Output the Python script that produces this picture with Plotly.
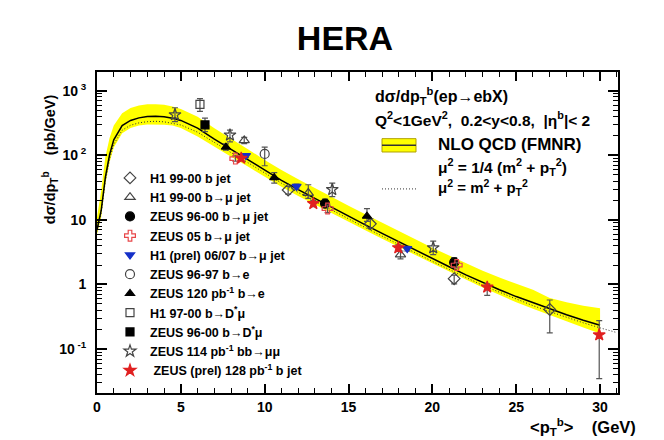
import plotly.graph_objects as go

# NLO QCD (FMNR) prediction
nlo_pt = [0, 0.25, 0.5, 0.75, 1, 1.5, 2, 2.5, 3, 3.5, 4, 4.5, 5, 6, 7, 8, 9, 10, 11, 12, 13, 14, 15,
          16, 17, 18, 19, 20, 21, 22, 23, 24, 25, 26, 27, 28, 29, 30]
nlo_central = [7.1, 14, 46, 102, 174, 288, 347, 380, 398, 403, 394, 376, 347, 263, 178, 123, 86, 59, 41,
               29.5, 21.4, 15.7, 11.5, 8.4, 6.2, 4.57, 3.39, 2.51, 1.88, 1.41, 1.07, 0.83, 0.65, 0.52,
               0.42, 0.34, 0.28, 0.234]
nlo_upper = [11, 28, 95, 185, 290, 450, 540, 590, 615, 620, 605, 570, 520, 395, 262, 178, 124, 85, 59,
             42.5, 30.8, 22.6, 16.6, 12.2, 9.0, 6.7, 5.0, 3.7, 2.8, 2.12, 1.63, 1.28, 1.02, 0.83,
             0.62, 0.53, 0.47, 0.43]
nlo_lower = [6, 11, 36, 78, 132, 220, 265, 290, 300, 302, 298, 290, 265, 195, 134, 95, 67, 46.5, 32.5,
             23.5, 17.2, 12.7, 9.4, 6.9, 5.1, 3.8, 2.83, 2.1, 1.58, 1.19, 0.9, 0.69, 0.53, 0.42,
             0.34, 0.27, 0.215, 0.175]
alt_pt = nlo_pt + [31]
alt_scale = [6.6, 13, 40, 88, 148, 245, 292, 318, 332, 336, 330, 316, 295, 228, 157, 110, 77, 53, 37,
             26.6, 19.3, 14.2, 10.4, 7.6, 5.6, 4.13, 3.07, 2.28, 1.71, 1.28, 0.97, 0.76, 0.59, 0.47,
             0.38, 0.31, 0.255, 0.213, 0.18]

# measurements: pt, value, upper edge of error bar, lower edge of error bar
h1_bjet_pt = [11.4, 16.3, 21.3, 27.0]
h1_bjet_val = [29, 8.7, 1.23, 0.41]
h1_bjet_hi = [33, 10.5, 1.4, 0.575]
h1_bjet_lo = [25, 7.4, 1.02, 0.178]

h1_bmu_pt = [8.78, 12.6, 18.1]
h1_bmu_val = [170, 26, 2.9]
h1_bmu_hi = [190, 35, 3.3]
h1_bmu_lo = [152, 21.5, 2.5]

zeus_bmu_pt = [13.6, 21.3]
zeus_bmu_val = [17.9, 2.2]
zeus_bmu_hi = [21, 2.6]
zeus_bmu_lo = [15.5, 1.85]

zeus05_pt = [8.25, 13.75, 21.45]
zeus05_val = [89, 15, 2.0]
zeus05_hi = [98, 17, 2.2]
zeus05_lo = [81, 13, 1.8]

h1prel_pt = [8.88, 11.9, 18.5]
h1prel_val = [99, 33, 3.6]
h1prel_hi = [106, 36, 3.9]
h1prel_lo = [92, 30, 3.3]

zeus_be_pt = [10.0]
zeus_be_val = [105]
zeus_be_hi = [134]
zeus_be_lo = [69]

zeus120_pt = [7.69, 10.57, 16.1]
zeus120_val = [134, 45, 11.4]
zeus120_hi = [150, 54, 14.9]
zeus120_lo = [120, 37, 9.5]

h1_dstar_pt = [6.14]
h1_dstar_val = [615]
h1_dstar_hi = [755]
h1_dstar_lo = [480]

zeus_dstar_pt = [6.44]
zeus_dstar_val = [296]
zeus_dstar_hi = [376]
zeus_dstar_lo = [232]

zeus_mumu_pt = [4.65, 7.93, 14.03, 20.05]
zeus_mumu_val = [425, 206, 29.5, 3.7]
zeus_mumu_hi = [545, 246, 37, 4.7]
zeus_mumu_lo = [333, 161, 23, 2.9]

zeus128_pt = [8.6, 12.9, 17.97, 23.27, 29.95]
zeus128_val = [90, 17.9, 3.7, 0.91, 0.166]
zeus128_hi = [97, 20, 4.1, 1.02, 0.276]
zeus128_lo = [83, 16, 3.3, 0.68, 0.035]

FONT = 'Liberation Sans, Arial, Helvetica, sans-serif'

fig = go.Figure()

# yellow uncertainty band + curves
fig.add_trace(go.Scatter(x=nlo_pt, y=nlo_lower, mode='lines', line={'width': 0},
                         showlegend=False, hoverinfo='skip'))
fig.add_trace(go.Scatter(x=nlo_pt, y=nlo_upper, mode='lines', line={'width': 0},
                         fill='tonexty', fillcolor='#ffff00', showlegend=False, hoverinfo='skip'))
fig.add_trace(go.Scatter(x=alt_pt, y=alt_scale, mode='lines',
                         line={'color': '#333333', 'width': 1, 'dash': '1px,2px'}, showlegend=False))
fig.add_trace(go.Scatter(x=nlo_pt, y=nlo_central, mode='lines',
                         line={'color': 'black', 'width': 1.5}, showlegend=False))

series = [
    ('H1 99-00 b jet', h1_bjet_pt, h1_bjet_val, h1_bjet_hi, h1_bjet_lo, 'diamond-open', '#444444', 9),
    ('H1 99-00 b→μ jet', h1_bmu_pt, h1_bmu_val, h1_bmu_hi, h1_bmu_lo, 'triangle-up-open', '#444444', 9),
    ('ZEUS 96-00 b→μ jet', zeus_bmu_pt, zeus_bmu_val, zeus_bmu_hi, zeus_bmu_lo, 'circle', 'black', 9),
    ('ZEUS 05 b→μ jet', zeus05_pt, zeus05_val, zeus05_hi, zeus05_lo, 'cross-open', '#e8474a', 9),
    ('H1 (prel) 06/07 b→μ jet', h1prel_pt, h1prel_val, h1prel_hi, h1prel_lo, 'triangle-down', '#1530c8', 8),
    ('ZEUS 96-97 b→e', zeus_be_pt, zeus_be_val, zeus_be_hi, zeus_be_lo, 'circle-open', '#444444', 9),
    ('ZEUS 120 pb<sup>-1</sup> b→e', zeus120_pt, zeus120_val, zeus120_hi, zeus120_lo, 'triangle-up', 'black', 8),
    ('H1 97-00 b→D<sup>*</sup>μ', h1_dstar_pt, h1_dstar_val, h1_dstar_hi, h1_dstar_lo, 'square-open', '#444444', 8),
    ('ZEUS 96-00 b→D<sup>*</sup>μ', zeus_dstar_pt, zeus_dstar_val, zeus_dstar_hi, zeus_dstar_lo, 'square', 'black', 8),
    ('ZEUS 114 pb<sup>-1</sup> bb→μμ', zeus_mumu_pt, zeus_mumu_val, zeus_mumu_hi, zeus_mumu_lo, 'star-open', '#444444', 9),
    (' ZEUS (prel) 128 pb<sup>-1</sup> b jet', zeus128_pt, zeus128_val, zeus128_hi, zeus128_lo, 'star', '#e02020', 9),
]

for name, xs, ys, his, los, symbol, colour, size in series:
    fig.add_trace(go.Scatter(
        x=xs, y=ys, mode='markers', name=name,
        marker={'symbol': symbol, 'size': size, 'color': colour, 'line': {'color': colour, 'width': 1.2}},
        error_y={'type': 'data', 'symmetric': False,
                 'array': [h - v for h, v in zip(his, ys)],
                 'arrayminus': [v - l for v, l in zip(ys, los)],
                 'color': '#555555', 'thickness': 1.2, 'width': 3},
    ))

# the page body adds an 8px offset; plot area on screen: left 97, right 618, top 72, bottom 385
OFF = 8
W, H = 664 - OFF, 440 - OFF


def px(p):
    return (p - 97) / 521


def py(p):
    return (385 - p) / 313


annotations = [
    dict(text='<b>dσ/dp<sub>T</sub><sup>b</sup>(ep→ebX)</b>', x=px(373), y=py(95), font={'size': 16}),
    dict(text='<b>Q<sup>2</sup><1GeV<sup>2</sup>,  0.2<y<0.8,  |η<sup>b</sup>|< 2</b>',
         x=px(373), y=py(118), font={'size': 15.5}),
    dict(text='<b>NLO QCD (FMNR)</b>', x=px(436), y=py(143), font={'size': 17}),
    dict(text='<b>μ<sup>2</sup> = 1/4 (m<sup>2</sup> + p<sub>T</sub><sup>2</sup>)</b>',
         x=px(436), y=py(165), font={'size': 15.5}),
    dict(text='<b>μ<sup>2</sup> = m<sup>2</sup> + p<sub>T</sub><sup>2</sup></b>',
         x=px(436), y=py(185), font={'size': 15}),
    dict(text='<b>&lt;p<sub>T</sub><sup>b</sup>&gt;&nbsp;&nbsp;&nbsp;&nbsp;(GeV)</b>', x=px(638), y=py(418),
         xanchor='right', font={'size': 16.5}),
    dict(text='<b>dσ/dp<sub>T</sub><sup>b</sup>&nbsp;&nbsp;&nbsp;&nbsp;(pb/GeV)</b>', x=px(50), y=py(157),
         xanchor='center', textangle=-90, font={'size': 14.5}),
]
for a in annotations:
    a.setdefault('xanchor', 'left')
    a.update(xref='paper', yref='paper', yanchor='middle', showarrow=False)
    a['font'].update(family=FONT, color='black')

shapes = [
    dict(type='rect', x0=px(382), x1=px(416), y0=py(150), y1=py(137),
         fillcolor='#ffff00', line={'color': '#b0a000', 'width': 1}),
    dict(type='line', x0=px(382), x1=px(416), y0=py(143.5), y1=py(143.5),
         line={'color': '#333333', 'width': 1.5}),
    dict(type='line', x0=px(382), x1=px(416), y0=py(186), y1=py(186),
         line={'color': '#333333', 'width': 1, 'dash': '1px,2px'}),
]
for s in shapes:
    s.update(xref='paper', yref='paper')

fig.update_layout(
    width=W, height=H,
    margin={'l': 97 - OFF, 'r': 664 - 618 - OFF + OFF, 't': 72 - OFF, 'b': 440 - 385 - OFF},
    paper_bgcolor='white', plot_bgcolor='white',
    font={'family': FONT, 'color': 'black'},
    title={'text': '<b>HERA</b>', 'x': (345 - OFF) / W, 'xanchor': 'center',
           'y': 1 - (38 - OFF) / H, 'yanchor': 'middle',
           'font': {'size': 34, 'family': FONT, 'color': 'black'}},
    legend={'x': px(110), 'y': py(161), 'xanchor': 'left', 'yanchor': 'top', 'traceorder': 'normal',
            'bgcolor': 'rgba(0,0,0,0)', 'font': {'size': 12.5, 'weight': 'bold', 'family': FONT},
            'itemwidth': 30},
    annotations=annotations,
    shapes=shapes,
)

fig.update_xaxes(range=[0, 31.07], showgrid=False, zeroline=False,
                 showline=True, linecolor='black', linewidth=2, mirror='ticks',
                 ticks='inside', ticklen=9, tickwidth=1.5, tickcolor='black',
                 tickmode='linear', tick0=0, dtick=5,
                 minor={'ticks': 'inside', 'ticklen': 5, 'dtick': 1, 'tickcolor': 'black', 'tickwidth': 1.2},
                 tickfont={'size': 14, 'weight': 'bold', 'family': FONT})

minor_vals = [m * 10.0 ** e for e in range(-2, 4) for m in range(2, 10)]
fig.update_yaxes(type='log', range=[-1.68, 3.29], showgrid=False, zeroline=False,
                 showline=True, linecolor='black', linewidth=2, mirror='ticks',
                 ticks='inside', ticklen=10, tickwidth=1.5, tickcolor='black',
                 tickmode='array', tickvals=[0.1, 1, 10, 100, 1000],
                 ticktext=['10<sup> -1</sup>', '1', '10', '10<sup> 2</sup>', '10<sup> 3</sup>'],
                 minor={'ticks': 'inside', 'ticklen': 5, 'tickmode': 'array', 'tickvals': minor_vals,
                        'tickcolor': 'black', 'tickwidth': 1.2},
                 ticklabelstandoff=6,
                 tickfont={'size': 14, 'weight': 'bold', 'family': FONT})

fig.write_html("out.html")
